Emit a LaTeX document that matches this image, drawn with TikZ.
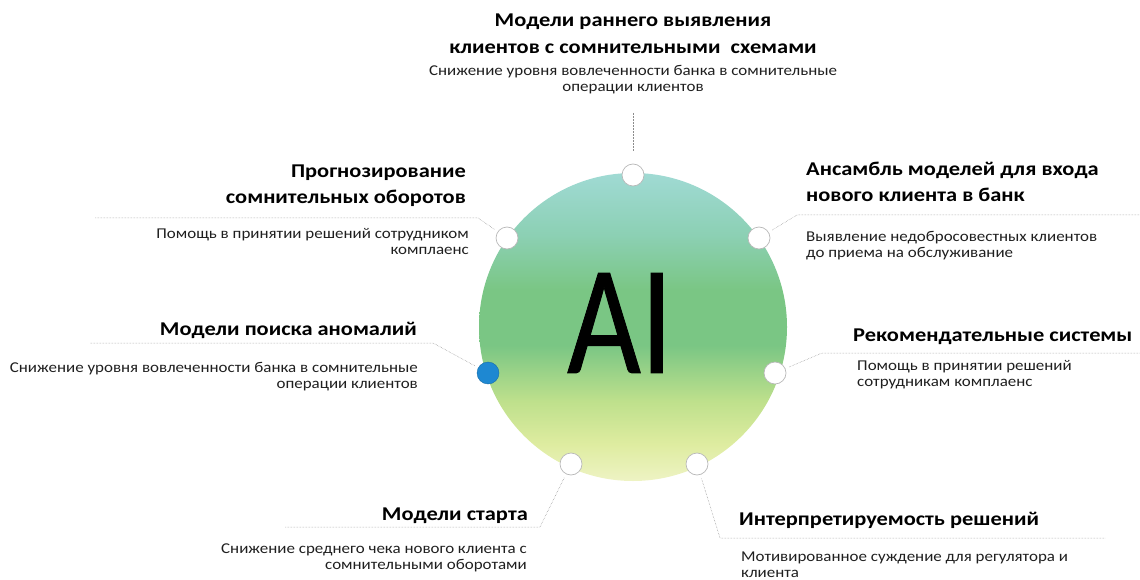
\documentclass[tikz,border=0pt]{standalone}
\usepackage{fontspec}
\setmainfont{Carlito}
\newfontfamily\capfont{Carlito}[FakeStretch=1.15]
\newfontfamily\notefont{Carlito}[FakeStretch=1.13]
\newfontfamily\bigfont{Carlito}[FakeBold=0.7]
\definecolor{aiblue}{RGB}{30,136,210}
\definecolor{topteal}{RGB}{160,218,212}
\definecolor{upteal}{RGB}{140,208,180}
\definecolor{midgreen}{RGB}{122,198,132}
\definecolor{lowgreen}{RGB}{190,224,140}
\definecolor{yelgreen}{RGB}{222,236,160}
\definecolor{lowyellow}{RGB}{238,243,196}
% vertical colour ramp of the sphere (path box spans 25bp..75bp)
\pgfdeclareverticalshading{aisphere}{100bp}{%
  color(0bp)=(lowyellow); color(25bp)=(lowyellow); color(31bp)=(yelgreen);
  color(38bp)=(lowgreen); color(47bp)=(midgreen); color(56bp)=(midgreen);
  color(65bp)=(upteal); color(75bp)=(topteal); color(100bp)=(topteal)}
\begin{document}
\begin{tikzpicture}[x=1pt,y=-1pt,
  head/.style={font=\capfont\fontsize{19.5}{26}\selectfont\bfseries, text=black, inner sep=0pt},
  sub/.style={font=\notefont\fontsize{15}{16}\selectfont, text=black!88, inner sep=0pt},
  dot/.style={circle, draw=black!28, line width=0.7pt, fill=white, minimum size=22pt, inner sep=0pt},
  hot/.style={circle, draw=aiblue!80!black, line width=0.4pt, fill=aiblue, minimum size=22pt, inner sep=0pt},
  link/.style={draw=black!45, line width=0.5pt, densely dotted}]
\useasboundingbox (0,0) rectangle (1140,580);

% central sphere
\node[circle, minimum size=308pt, inner sep=0pt, shading=aisphere] (ai) at (633,327) {};
\node[font=\bigfont\fontsize{155}{155}\selectfont, inner sep=0pt] (ailabel) at (620,323) {\scalebox{0.82}[1]{AI}};

% markers on the rim
\node[dot] (d1) at (633,175) {};
\node[dot] (d2) at (507,238) {};
\node[dot] (d3) at (759,238) {};
\node[hot] (d4) at (488,373) {};
\node[dot] (d5) at (775,373) {};
\node[dot] (d6) at (571,464) {};
\node[dot] (d7) at (697,464) {};

% leader lines
\coordinate (t1) at (633,113);
\coordinate (t2) at (633,152);
\draw[link] (t1) -- (t2);

\coordinate (b2) at (478,218);
\coordinate (e2) at (95,218);
\draw[link, shorten <=4pt] (d2) -- (b2) -- (e2);

\coordinate (b3) at (797,215);
\coordinate (e3) at (1140,215);
\draw[link, shorten <=4pt] (d3) -- (b3) -- (e3);

\coordinate (b4) at (433,343);
\coordinate (e4) at (90,343);
\draw[link, shorten <=4pt] (d4) -- (b4) -- (e4);

\coordinate (b5) at (822,353);
\coordinate (e5) at (1140,353);
\draw[link, shorten <=4pt] (d5) -- (b5) -- (e5);

\coordinate (b6) at (540,527);
\coordinate (e6) at (285,527);
\draw[link, shorten <=4pt] (d6) -- (b6) -- (e6);

\coordinate (b7) at (720,538);
\coordinate (e7) at (1105,538);
\draw[link, shorten <=4pt] (d7) -- (b7) -- (e7);

% captions (for two-line blocks the base anchor sits on the last line)
\node[head, anchor=base, align=center] (h1) at (633,54)
  {Модели раннего выявления\\[1.5pt]клиентов с сомнительными\ \ схемами};
\node[sub, anchor=base, align=center] (s1) at (633,92)
  {Снижение уровня вовлеченности банка в сомнительные\\операции клиентов};

\node[head, anchor=base east, align=right] (h2) at (466,204)
  {Прогнозирование\\сомнительных оборотов};
\node[sub, anchor=base east, align=right] (s2) at (469,254)
  {Помощь в принятии решений сотрудником\\комплаенс};

\node[head, anchor=base west, align=left] (h3) at (806,202)
  {Ансамбль моделей для входа\\нового клиента в банк};
\node[sub, anchor=base west, align=left] (s3) at (806,257)
  {Выявление недобросовестных клиентов\\до приема на обслуживание};

\node[head, anchor=base east, align=right] (h4) at (417,335)
  {Модели поиска аномалий};
\node[sub, anchor=base east, align=right] (s4) at (418,388)
  {Снижение уровня вовлеченности банка в сомнительные\\операции клиентов};

\node[head, anchor=base west, align=left] (h5) at (853,341)
  {Рекомендательные системы};
\node[sub, anchor=base west, align=left] (s5) at (857,386)
  {Помощь в принятии решений\\сотрудникам комплаенс};

\node[head, anchor=base east, align=right] (h6) at (528,520)
  {Модели старта};
\node[sub, anchor=base east, align=right] (s6) at (527,569)
  {Снижение среднего чека нового клиента с\\сомнительными оборотами};

\node[head, anchor=base west, align=left] (h7) at (739,525)
  {Интерпретируемость решений};
\node[sub, anchor=base west, align=left] (s7) at (741,577)
  {Мотивированное суждение для регулятора и\\клиента};
\end{tikzpicture}
\end{document}
